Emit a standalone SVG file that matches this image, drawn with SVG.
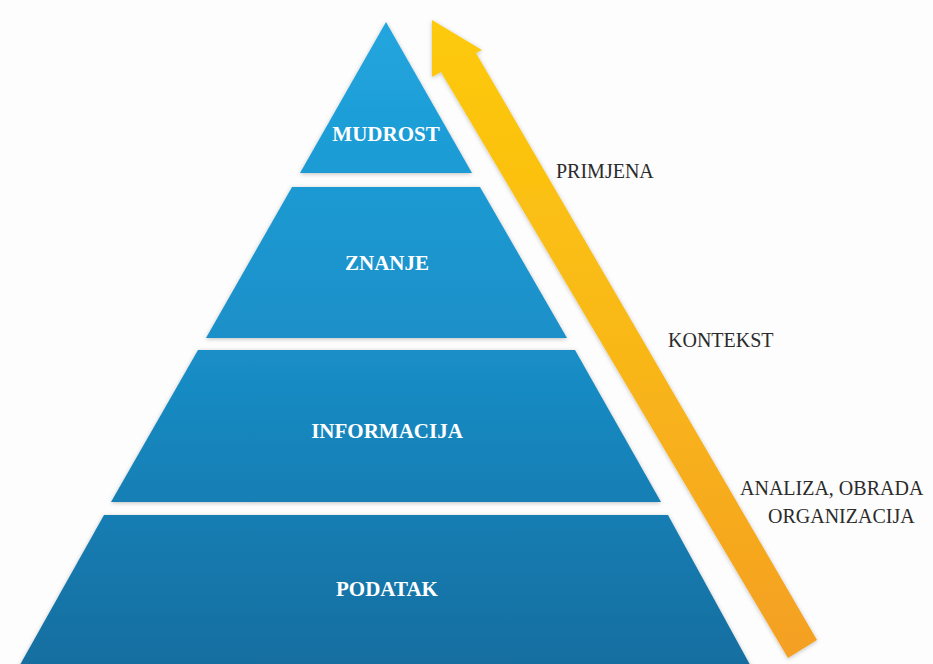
<svg xmlns="http://www.w3.org/2000/svg" width="933" height="664" viewBox="0 0 933 664">
  <defs>
    <linearGradient id="blueGrad" gradientUnits="userSpaceOnUse" x1="0" y1="22" x2="0" y2="664">
      <stop offset="0" stop-color="#21a5de"/>
      <stop offset="0.5" stop-color="#1a8fc8"/>
      <stop offset="1" stop-color="#126ea0"/>
    </linearGradient>
    <linearGradient id="arrowGrad" gradientUnits="userSpaceOnUse" x1="0" y1="20" x2="0" y2="660">
      <stop offset="0" stop-color="#fdca0a"/>
      <stop offset="0.5" stop-color="#f9b818"/>
      <stop offset="1" stop-color="#f49f22"/>
    </linearGradient>
    <filter id="soft" x="-10%" y="-10%" width="120%" height="120%">
      <feDropShadow dx="0" dy="1" stdDeviation="2" flood-color="#000" flood-opacity="0.25"/>
    </filter>
  </defs>
  <style>
    .level { fill: url(#blueGrad); filter: url(#soft); }
    .lvl-text { font-family: "Liberation Serif", "DejaVu Serif", serif; font-weight: bold; font-size: 21px; fill: #ffffff; text-anchor: middle; }
    .side-text { font-family: "Liberation Serif", "DejaVu Serif", serif; font-size: 20px; fill: #2b2b2b; }
    .arrow { fill: url(#arrowGrad); filter: url(#soft); }
  </style>
  <rect width="933" height="664" fill="#fdfdfd"/>

  <g id="connectors">
    <polygon class="arrow" points="788,658 441,72 432,77 432,20 482,50 476,53 817,640"/>
  </g>

  <g id="mudrost">
    <polygon class="level" points="386,22 472,173 300,173"/>
    <text class="lvl-text" x="386" y="141">MUDROST</text>
  </g>
  <g id="znanje">
    <polygon class="level" points="292,187 480,187 567,338 206,338"/>
    <text class="lvl-text" x="387" y="270">ZNANJE</text>
  </g>
  <g id="informacija">
    <polygon class="level" points="198,350 575,350 661,502 111,502"/>
    <text class="lvl-text" x="387" y="438">INFORMACIJA</text>
  </g>
  <g id="podatak">
    <polygon class="level" points="104,515 668,515 754,672 16,672"/>
    <text class="lvl-text" x="387" y="596">PODATAK</text>
  </g>

  <g id="label-primjena">
    <text class="side-text" x="556" y="178">PRIMJENA</text>
  </g>
  <g id="label-kontekst">
    <text class="side-text" x="668" y="347">KONTEKST</text>
  </g>
  <g id="label-analiza">
    <text class="side-text" x="740" y="495">ANALIZA, OBRADA</text>
    <text class="side-text" x="768" y="523">ORGANIZACIJA</text>
  </g>
</svg>
